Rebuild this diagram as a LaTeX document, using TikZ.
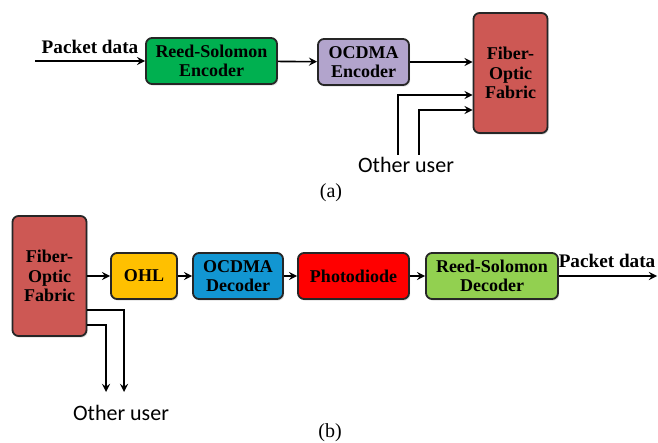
\documentclass[tikz,border=0pt]{standalone}
\usepackage{fontspec}
\setmainfont{Liberation Serif}
\newfontfamily\userfont{Carlito}
\usepackage{tikz}
\usetikzlibrary{calc,positioning,arrows,shadows}
\tikzset{
	->,
	>=stealth,
}
\definecolor{rsgreen}{RGB}{0,176,80}
\definecolor{lavender}{RGB}{178,164,204}
\definecolor{fabred}{RGB}{205,88,84}
\definecolor{ohlgold}{RGB}{255,192,0}
\definecolor{decblue}{RGB}{18,150,210}
\definecolor{pdred}{RGB}{255,0,0}
\definecolor{lightgreen}{RGB}{146,208,80}

\begin{document}
\begin{tikzpicture}[
            x=0.5pt, y=-0.5pt,
            line width=0.8pt,
            block/.style={-, draw=black!85, line width=0.9pt, rounded corners=3pt,
                minimum height=23pt, align=center, inner sep=1pt,
                font=\fontsize{9}{9.6}\selectfont\bfseries,
                drop shadow={shadow xshift=0.6pt, shadow yshift=-0.8pt, opacity=0.25}},
            fabric/.style={block, fill=fabred, minimum width=37pt, minimum height=60pt},
            lbl/.style={font=\fontsize{9.6}{11}\selectfont\bfseries},
            user/.style={font=\userfont\fontsize{11}{13}\selectfont},
            subcap/.style={font=\fontsize{10}{12}\selectfont}
        ]
        \useasboundingbox (0,0) rectangle (658,443);

        % (a) transmitter
        \node[block, fill=rsgreen, minimum width=65.5pt] (rsenc) at (211.5,61) {Reed-Solomon\\Encoder};
        \node[block, fill=lavender, minimum width=45.5pt] (ocenc) at (363.5,62) {OCDMA\\Encoder};
        \node[fabric] (fabA) at (510.5,73) {Fiber-\\Optic\\Fabric};
        \coordinate (inA) at (35,61);
        \node[lbl] (pktA) at (90,47) {Packet data};
        \draw (inA) -- (rsenc);
        \draw (rsenc) -- (ocenc);
        \draw (ocenc.east) -- (ocenc.east -| fabA.west);
        \coordinate (ouA1) at (398,155);
        \coordinate (ouA2) at (419,155);
        \draw (ouA1) |- ($(fabA.west)+(0,22)$);
        \draw (ouA2) |- ($(fabA.west)+(0,37)$);
        \node[user] (userA) at (406,165) {Other user};
        \node[subcap] (capA) at (331,193) {(a)};

        % (b) receiver
        \node[fabric] (fabB) at (49.5,276) {Fiber-\\Optic\\Fabric};
        \node[block, fill=ohlgold, minimum width=33pt] (ohl) at (144,276) {OHL};
        \node[block, fill=decblue, minimum width=45pt] (ocdec) at (238,276) {OCDMA\\Decoder};
        \node[block, fill=pdred, minimum width=55.5pt] (photo) at (353.5,276) {Photodiode};
        \node[block, fill=lightgreen, minimum width=66pt] (rsdec) at (492,276) {Reed-Solomon\\Decoder};
        \coordinate (outB) at (657,276);
        \node[lbl] (pktB) at (607,261) {Packet data};
        \draw (fabB) -- (ohl);
        \draw (ohl) -- (ocdec);
        \draw (ocdec) -- (photo);
        \draw (photo) -- (rsdec);
        \draw (rsdec) -- (outB);
        \coordinate (ouB1) at (124,392);
        \coordinate (ouB2) at (106,392);
        \draw ($(fabB.east)+(0,34)$) -| (ouB1);
        \draw ($(fabB.east)+(0,49)$) -| (ouB2);
        \node[user] (userB) at (121,413) {Other user};
        \node[subcap] (capB) at (330,433) {(b)};
    \end{tikzpicture}
\end{document}
